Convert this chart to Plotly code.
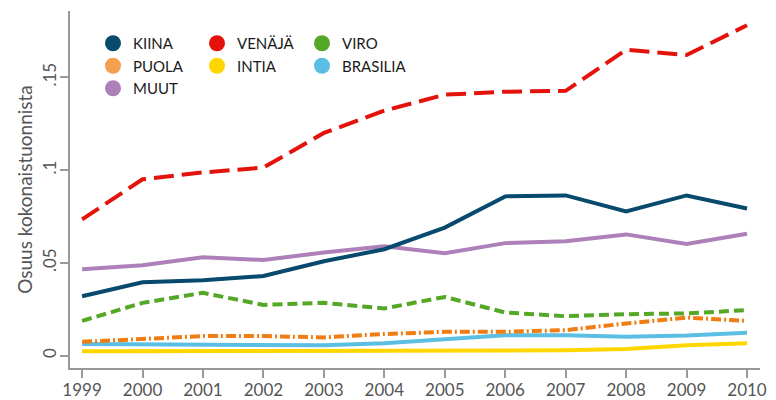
import plotly.graph_objects as go

years = list(range(1999, 2011))

kiina = [0.0320, 0.0395, 0.0406, 0.0429, 0.0508, 0.0573, 0.0690, 0.0858, 0.0863, 0.0777, 0.0863, 0.0793]
venaja = [0.0734, 0.0950, 0.0987, 0.1013, 0.1200, 0.1320, 0.1406, 0.1422, 0.1427, 0.1648, 0.1620, 0.1780]
viro = [0.0187, 0.0284, 0.0338, 0.0273, 0.0284, 0.0254, 0.0316, 0.0232, 0.0212, 0.0223, 0.0227, 0.0245]
puola = [0.0074, 0.0087, 0.0105, 0.0105, 0.0098, 0.0116, 0.0128, 0.0128, 0.0137, 0.0173, 0.0205, 0.0187]
intia = [0.0023, 0.0024, 0.0025, 0.0024, 0.0025, 0.0026, 0.0026, 0.0026, 0.0028, 0.0035, 0.0055, 0.0066]
brasilia = [0.0062, 0.0060, 0.0055, 0.0053, 0.0055, 0.0066, 0.0089, 0.0110, 0.0110, 0.0101, 0.0108, 0.0123]
muut = [0.0465, 0.0487, 0.0530, 0.0515, 0.0556, 0.0589, 0.0551, 0.0606, 0.0616, 0.0653, 0.0601, 0.0657]

ytick_vals = [0, 0.05, 0.1, 0.15]
ytick_text = ["0", ".05", ".1", ".15"]

series = [
    # name, values, line colour, legend colour, dash, legend group
    ("INTIA", intia, "#ffd600", "#ffd600", "solid", "legend2"),
    ("BRASILIA", brasilia, "#5bbfe4", "#5bbfe4", "solid", "legend3"),
    ("PUOLA", puola, "#f07d12", "#f4a04f", "10px,3px,2px,3px", "legend"),
    ("VIRO", viro, "#55a826", "#55a826", "10px,5px", "legend3"),
    ("MUUT", muut, "#ad80ba", "#ad80ba", "solid", "legend"),
    ("KIINA", kiina, "#074a6d", "#074a6d", "solid", "legend"),
    ("VENÄJÄ", venaja, "#e3130c", "#e3130c", "20px,8px", "legend2"),
]

fig = go.Figure()
for name, vals, col, lcol, dash, lg in series:
    fig.add_trace(go.Scatter(
        x=years, y=vals, mode="lines", name=name, showlegend=False,
        line=dict(color=col, width=4, dash=dash),
    ))

legend_order = ["KIINA", "PUOLA", "MUUT", "VENÄJÄ", "INTIA", "VIRO", "BRASILIA"]
lookup = {s[0]: s for s in series}
for name in legend_order:
    _, vals, col, lcol, dash, lg = lookup[name]
    fig.add_trace(go.Scatter(
        x=[None], y=[None], mode="markers", name=name, legend=lg,
        marker=dict(color=lcol, size=16, symbol="circle"),
    ))

font_family = "Lato, Open Sans, sans-serif"
leg_common = dict(
    xref="paper", yref="paper", yanchor="top", xanchor="left",
    bgcolor="rgba(0,0,0,0)", font=dict(family=font_family, size=15, color="#1a1a1a"),
    tracegroupgap=0, itemsizing="trace", traceorder="normal",
)

L, R, T, B = 70, 760, 11, 368
def px_x(p):
    return (p - L) / (R - L)
def px_y(p):
    return (B - p) / (B - T)

fig.update_layout(
    width=776, height=400,
    margin=dict(l=L, r=776 - R, t=T, b=400 - B, autoexpand=False),
    paper_bgcolor="white", plot_bgcolor="white",
    font=dict(family=font_family, color="#555555"),
    legend=dict(x=px_x(93), y=px_y(27), **leg_common),
    legend2=dict(x=px_x(197), y=px_y(27), **leg_common),
    legend3=dict(x=px_x(302), y=px_y(27), **leg_common),
    xaxis=dict(
        range=[1998.8, 2010.215], tickvals=years, showgrid=False, zeroline=False,
        tickangle=0, ticklabelstandoff=-2,
        showline=True, linecolor="#9a9a9a", linewidth=1.5,
        ticks="outside", ticklen=8, tickcolor="#9a9a9a", tickwidth=1.5,
        tickfont=dict(size=17, color="#555555", family=font_family),
    ),
    yaxis=dict(
        range=[-0.0067, 0.1857], tickvals=ytick_vals, ticktext=ytick_text,
        showgrid=False, zeroline=False, tickangle=-90, ticklabelstandoff=-3,
        showline=True, linecolor="#9a9a9a", linewidth=1.5,
        ticks="outside", ticklen=8, tickcolor="#9a9a9a", tickwidth=1.5,
        tickfont=dict(size=17, color="#555555", family=font_family),
        title=dict(text="Osuus kokonaistuonnista", font=dict(size=19, color="#555555", family=font_family), standoff=2),
    ),
)

fig.write_html(
    "out.html",
    config={"displayModeBar": False},
    post_script="document.body.style.margin='0';document.body.style.overflow='hidden';",
)
